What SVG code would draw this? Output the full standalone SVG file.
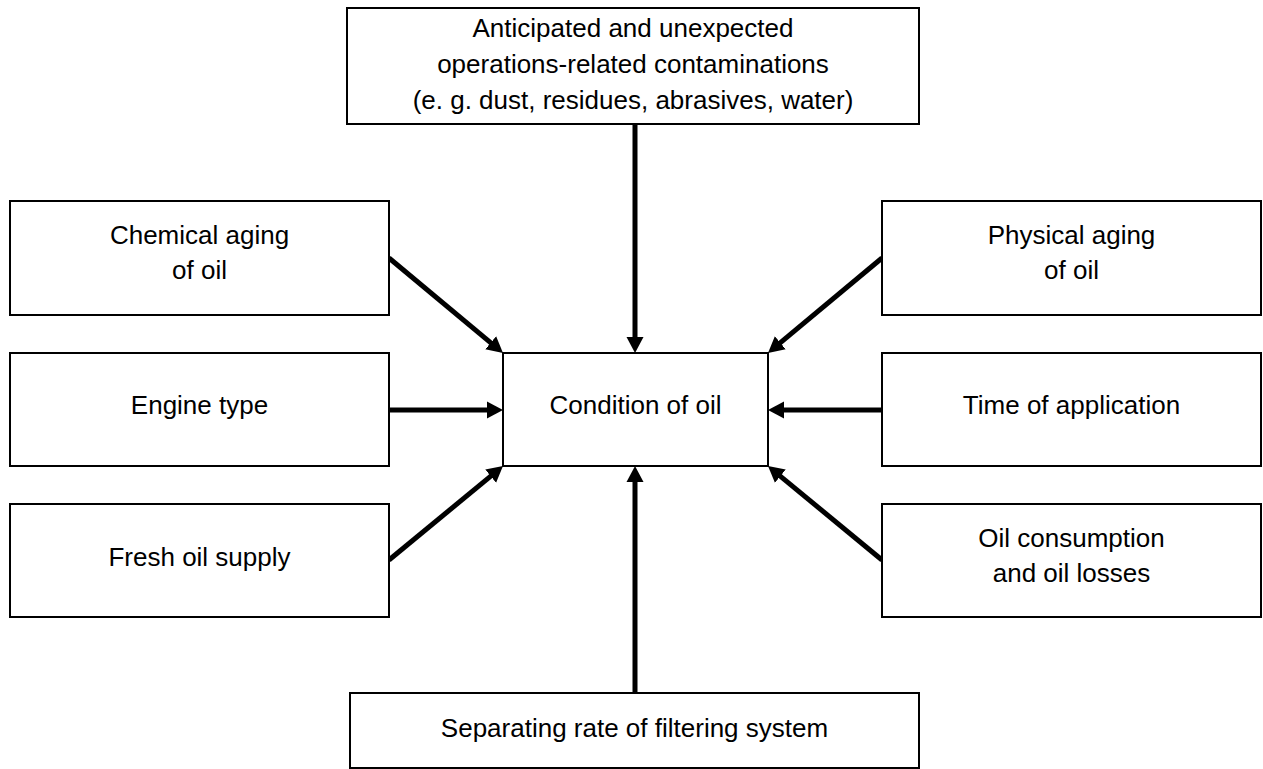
<svg xmlns="http://www.w3.org/2000/svg" width="1263" height="769" viewBox="0 0 1263 769">
  <style>
    .box { fill: #ffffff; stroke: #000000; stroke-width: 2; }
    .lbl { font-family: "Liberation Sans", Arial, sans-serif; font-size: 26px; fill: #000000; text-anchor: middle; }
    .conn { stroke: #000000; stroke-width: 5; fill: none; marker-end: url(#ah); }
  </style>
  <defs>
    <marker id="ah" markerUnits="userSpaceOnUse" markerWidth="16" markerHeight="18" refX="8" refY="9" orient="auto" viewBox="0 0 16 18">
      <path d="M0,0.5 L16,9 L0,17.5 Z" fill="#000000"/>
    </marker>
  </defs>
  <rect width="1263" height="769" fill="#ffffff"/>

  <g id="connectors">
    <line class="conn" x1="635" y1="124" x2="635" y2="345"/>
    <line class="conn" x1="635" y1="693" x2="635" y2="474"/>
    <line class="conn" x1="389" y1="258" x2="496.85" y2="347.88"/>
    <line class="conn" x1="389" y1="410" x2="495" y2="410"/>
    <line class="conn" x1="389" y1="560" x2="496.83" y2="471.09"/>
    <line class="conn" x1="882" y1="258" x2="774.15" y2="347.88"/>
    <line class="conn" x1="882" y1="410" x2="776" y2="410"/>
    <line class="conn" x1="882" y1="560" x2="774.17" y2="471.09"/>
  </g>

  <g id="node-contaminations">
    <rect class="box" x="347" y="8" width="572" height="116"/>
    <text class="lbl" x="633" y="37">Anticipated and unexpected</text>
    <text class="lbl" x="633" y="73">operations-related contaminations</text>
    <text class="lbl" x="633" y="109">(e. g. dust, residues, abrasives, water)</text>
  </g>

  <g id="node-chemical">
    <rect class="box" x="10" y="201" width="379" height="114"/>
    <text class="lbl" x="199.5" y="244">Chemical aging</text>
    <text class="lbl" x="199.5" y="279">of oil</text>
  </g>

  <g id="node-engine">
    <rect class="box" x="10" y="353" width="379" height="113"/>
    <text class="lbl" x="199.5" y="414">Engine type</text>
  </g>

  <g id="node-fresh">
    <rect class="box" x="10" y="504" width="379" height="113"/>
    <text class="lbl" x="199.5" y="566">Fresh oil supply</text>
  </g>

  <g id="node-condition">
    <rect class="box" x="503" y="353" width="265" height="113"/>
    <text class="lbl" x="635.5" y="414">Condition of oil</text>
  </g>

  <g id="node-physical">
    <rect class="box" x="882" y="201" width="379" height="114"/>
    <text class="lbl" x="1071.5" y="244">Physical aging</text>
    <text class="lbl" x="1071.5" y="279">of oil</text>
  </g>

  <g id="node-time">
    <rect class="box" x="882" y="353" width="379" height="113"/>
    <text class="lbl" x="1071.5" y="414">Time of application</text>
  </g>

  <g id="node-consumption">
    <rect class="box" x="882" y="504" width="379" height="113"/>
    <text class="lbl" x="1071.5" y="547">Oil consumption</text>
    <text class="lbl" x="1071.5" y="582">and oil losses</text>
  </g>

  <g id="node-separating">
    <rect class="box" x="350" y="693" width="569" height="75"/>
    <text class="lbl" x="634.5" y="737">Separating rate of filtering system</text>
  </g>
</svg>
